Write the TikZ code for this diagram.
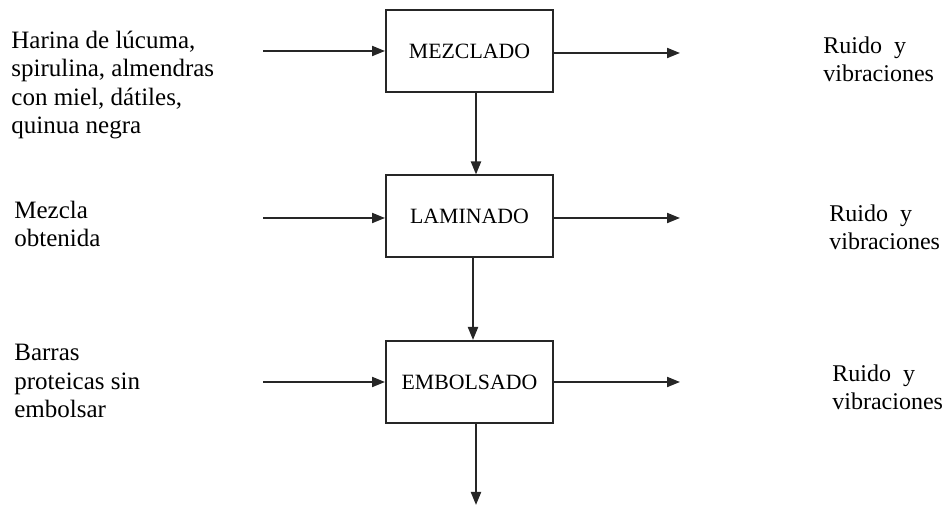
\documentclass[tikz,border=0pt]{standalone}
\usepackage{fontspec}
\setmainfont{Liberation Serif}
\usetikzlibrary{arrows.meta}
\begin{document}
\begin{tikzpicture}[x=0.5pt,y=-0.5pt,
  procbox/.style={draw=black!85,line width=1pt,minimum width=83.5pt,minimum height=41pt,
    inner sep=0pt,font=\fontsize{10.9pt}{13pt}\selectfont},
  flow/.style={draw=black!85,line width=1pt,-{Triangle[length=6.5pt,width=5pt]}},
  sidetext/.style={anchor=base west,inner sep=0pt,align=left,
    font=\fontsize{12pt}{14.2pt}\selectfont},
  intext/.style={sidetext,font=\fontsize{12.5pt}{14.3pt}\selectfont}]
  \useasboundingbox (0,0) rectangle (942,506);

  % process steps
  \node[procbox] (m1) at (469.5,51) {MEZCLADO};
  \node[procbox] (m2) at (469.5,216.5) {LAMINADO};
  \node[procbox] (m3) at (469.5,382) {EMBOLSADO};

  % free ends of the side arrows
  \coordinate (i1) at (263,51);
  \coordinate (i2) at (263,218);
  \coordinate (i3) at (263,382);
  \coordinate (o1) at (680,53);
  \coordinate (o2) at (680,218);
  \coordinate (o3) at (680,382);
  \coordinate (v1) at (476,0);
  \coordinate (v2) at (473,0);
  \coordinate (end) at (476,505);

  % inputs
  \draw[flow] (i1) -- (m1.west |- i1);
  \draw[flow] (i2) -- (m2.west |- i2);
  \draw[flow] (i3) -- (m3.west |- i3);

  % outputs
  \draw[flow] (m1.east |- o1) -- (o1);
  \draw[flow] (m2.east |- o2) -- (o2);
  \draw[flow] (m3.east |- o3) -- (o3);

  % main line
  \draw[flow] (m1.south -| v1) -- (m2.north -| v1);
  \draw[flow] (m2.south -| v2) -- (m3.north -| v2);
  \draw[flow] (m3.south -| end) -- (end);

  % input labels (anchored at the baseline of their last line)
  \node[intext] (t1) at (11,134) {Harina de lúcuma,\\spirulina, almendras\\con miel, dátiles,\\quinua negra};
  \node[intext] (t2) at (14,247) {Mezcla\\obtenida};
  \node[intext] (t3) at (14,418) {Barras\\proteicas sin\\embolsar};

  % output labels
  \node[sidetext] (r1) at (823,82) {Ruido\ \ y\\vibraciones};
  \node[sidetext] (r2) at (829,250) {Ruido\ \ y\\vibraciones};
  \node[sidetext] (r3) at (832,410) {Ruido\ \ y\\vibraciones};
\end{tikzpicture}
\end{document}
